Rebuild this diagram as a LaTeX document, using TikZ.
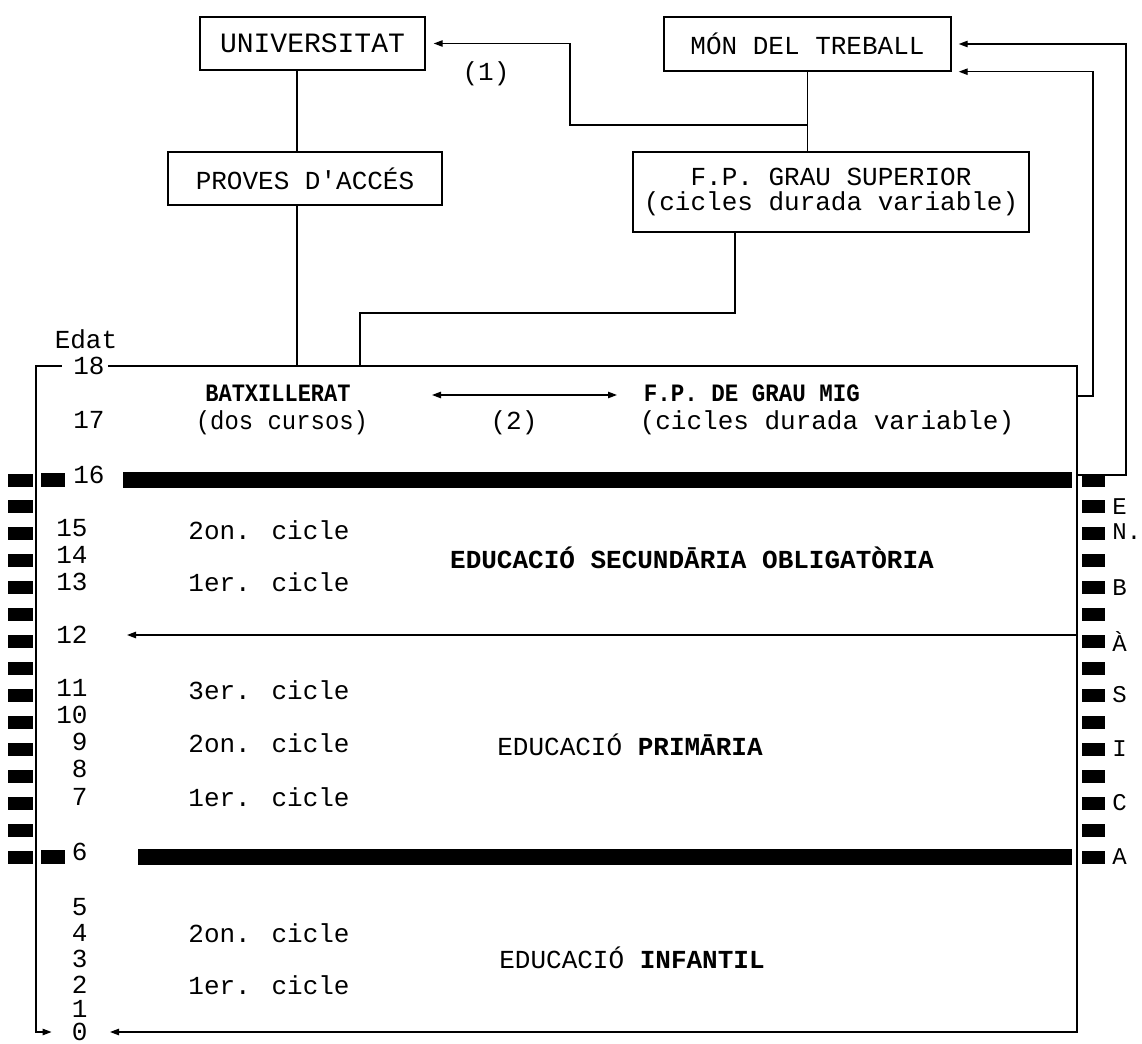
\documentclass[tikz,border=0pt]{standalone}
\usepackage{fontspec}
\usepackage{graphicx}
\setmainfont{Liberation Mono}
\usetikzlibrary{arrows.meta}
\begin{document}
\begin{tikzpicture}[x=0.5pt,y=-0.5pt,
  every node/.style={font=\fontsize{13}{12.5}\selectfont, inner sep=0pt},
  ln/.style={line width=0.7pt},
  box/.style={draw, line width=0.7pt, inner sep=0pt},
  tip/.style={-{Triangle[length=4.5pt,width=3.2pt]}},
  dtip/.style={{Triangle[length=4.5pt,width=3.2pt]}-{Triangle[length=4.5pt,width=3.2pt]}},
  age/.style={anchor=east, font=\fontsize{13}{13}\selectfont},
  lbl/.style={font=\fontsize{13}{13}\selectfont},
  blbl/.style={font=\bfseries\fontsize{12.5}{12.5}\selectfont},
  cic/.style={anchor=west, font=\fontsize{13}{13}\selectfont},
  sidel/.style={anchor=west, font=\fontsize{12}{12}\selectfont},
]
\useasboundingbox (0,0) rectangle (1142,1044);

% top boxes
\node[box, minimum width=112.5pt, minimum height=26.5pt, font=\fontsize{14}{14}\selectfont] (univ) at (312.5,43.5) {UNIVERSITAT};
\node[box, minimum width=137pt, minimum height=26.5pt] (prov) at (305,178.5) {PROVES D\textquotesingle ACCÉS};
\node[box, minimum width=143.5pt, minimum height=27pt] (mon) at (807.5,44) {MÓN DEL TREBALL};
\node[box, minimum width=198pt, minimum height=40pt, align=center] (fps) at (831,192) {F.P. GRAU SUPERIOR\\(cicles durada variable)};
\node[lbl] (n1) at (486,74) {(1)};

% frame corners and helper coordinates
\coordinate (tl) at (36,366);
\coordinate (tr) at (1077,366);
\coordinate (bl) at (36,1032);
\coordinate (br) at (1077,1032);
\coordinate (c1) at (297,0);
\coordinate (j1) at (807.5,125);
\coordinate (k1) at (570,125);
\coordinate (c2) at (735,313);
\coordinate (c3) at (360,313);
\coordinate (o1) at (1077,475);
\coordinate (o2) at (1126,475);
\coordinate (i1) at (1077,396);
\coordinate (i2) at (1093,396);

% age labels
\node[lbl] (edat) at (86,339) {Edat};
\foreach \n/\yy in {18/366,17/420,16/475}{
  \node[age] (a\n) at (105,\yy) {\n};
}
\foreach \n/\yy in {15/528,14/555,13/582,12/635,11/688,10/715,9/742,8/769,7/797,6/852,5/907,4/933,3/959,2/985,1/1009,0/1032}{
  \node[age] (a\n) at (88,\yy) {\n};
}

% thick bars and dashes
\foreach \k in {0,...,14}{
  \fill (8,{480+26.93*\k-6.5}) rectangle ++(25,13);
  \fill (1082,{480+26.93*\k-6.5}) rectangle ++(23,13);
}
\fill (41,473) rectangle (65,487);
\fill (41,850) rectangle (65,864);
\fill (123,472) rectangle (1072,488);
\fill (138,849) rectangle (1072,865);

% right side letters
\foreach \t/\yy in {E/507,N./532,B/588,À/642,S/695,I/749,C/803,A/857}{
  \node[sidel] at (1112,\yy) {\t};
}

% connectors at top
\draw[ln] (univ.south -| c1) -- (prov.north -| c1);
\draw[ln] (prov.south -| c1) -- (c1 |- tr);
\draw[ln] (mon.south) -- (mon.south |- fps.north);
\draw[ln,tip,shorten >=4pt] (j1) -- (k1) |- (univ.east);
\draw[ln] (fps.south -| c2) -- (c2) -- (c3) -- (c3 |- tr);
\draw[ln,tip,shorten >=3.5pt] (o1) -- (o2) |- (mon.east);
\draw[ln,tip,shorten >=3.5pt] (i1) -- (i2) |- (mon.south east);

% frame / age axis
\draw[ln,tip,shorten >=10pt] ([xshift=-5.5pt]a18.west) -- (tl) -- (bl) -- (a0.west);
\draw[ln,tip,shorten >=11pt] ([xshift=1.5pt]a18.east) -- (tr) -- (br) -- (a0.east);
\draw[ln,tip,shorten >=19.5pt] (tr |- a12) -- (a12.east);

% upper secondary
\node[blbl] (batx) at (278,393) {\scalebox{0.88}[1]{BATXILLERAT}};
\node[lbl] (batx2) at (282,423) {\scalebox{0.92}[1]{(dos cursos)}};
\node[blbl] (fpm) at (752,393) {\scalebox{0.9}[1]{F.P. DE GRAU MIG}};
\node[lbl] (fpm2) at (827,423) {(cicles durada variable)};
\node[lbl] (n2) at (514,423) {(2)};
\draw[ln,dtip] (432,395) coordinate (d1) -- (617,395) coordinate (d2);

% ESO
\node[cic] (e2) at (188,530) {2on. cicle};
\node[cic] (e1) at (188,582) {1er. cicle};
\node[font=\bfseries\fontsize{13}{13}\selectfont] (eso) at (692,558) {EDUCACIÓ SECUNDĀRIA OBLIGATÒRIA};

% primaria
\node[cic] (p3) at (188,690) {3er. cicle};
\node[cic] (p2) at (188,743) {2on. cicle};
\node[cic] (p1) at (188,797) {1er. cicle};
\node[lbl] (prim) at (630,745) {EDUCACIÓ \textbf{PRIMĀRIA}};

% infantil
\node[cic] (i2l) at (188,933) {2on. cicle};
\node[cic] (i1l) at (188,985) {1er. cicle};
\node[lbl] (inf) at (632,958) {EDUCACIÓ \textbf{INFANTIL}};
\end{tikzpicture}
\end{document}
